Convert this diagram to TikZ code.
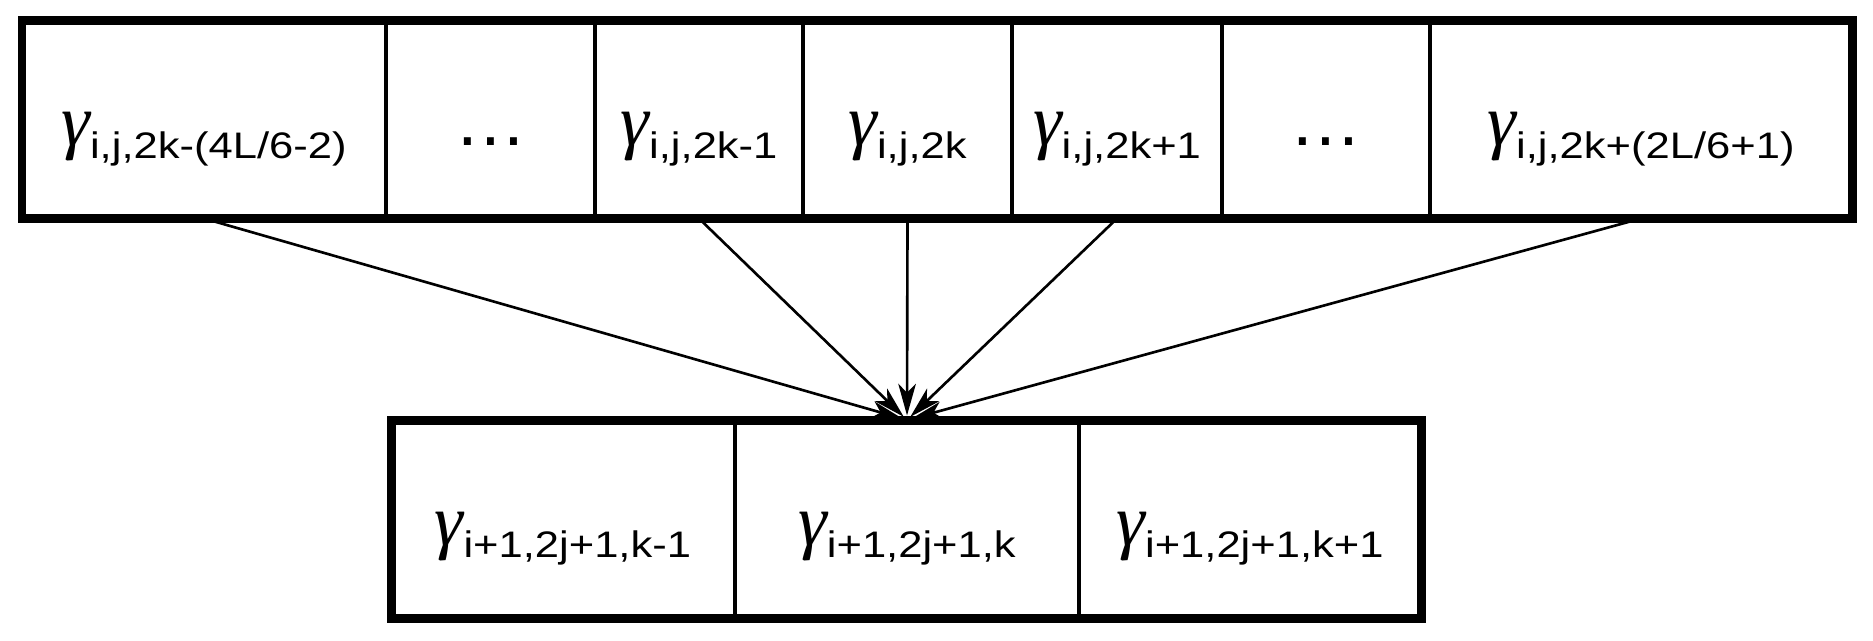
\documentclass[tikz,border=0pt]{standalone}
\usepackage{fontspec}
\usepackage{graphicx}
\setmainfont{Liberation Sans}
\newfontfamily\gfont{Liberation Serif}
\usetikzlibrary{arrows.meta}

\newcommand{\gam}[1]{{\gfont\itshape\fontsize{20.7}{22}\selectfont γ}\raisebox{-3.5pt}{\scalebox{1.18}[1]{\fontsize{10.5}{11}\selectfont #1}}}
\newcommand{\gdots}{{\fontsize{20.7}{22}\selectfont\ldots}}

\tikzstyle{cell}=[draw,line width=1.1pt,minimum height=1.98cm,inner sep=0pt,outer sep=0pt,text height=16pt,text depth=1pt]
\tikzstyle{frame}=[draw,line width=2.56pt]
\tikzstyle{arrow}=[draw,line width=0.75pt,-{Stealth[length=9pt,width=5pt,inset=2.5pt]},shorten >=0.045cm]

\begin{document}
\begin{tikzpicture}
	\useasboundingbox (0,0) rectangle (18.73,6.40);
			% upper row
			\node[cell,minimum width=3.64cm] (c1) at (2.04,5.205) {\gam{i,j,2k-(4L/6-2)}};
			\node[cell,minimum width=2.09cm] (c2) at (4.905,5.205) {\gdots};
			\node[cell,minimum width=2.08cm] (c3) at (6.99,5.205) {\gam{i,j,2k-1}};
			\node[cell,minimum width=2.09cm] (c4) at (9.075,5.205) {\gam{i,j,2k}};
			\node[cell,minimum width=2.10cm] (c5) at (11.17,5.205) {\gam{i,j,2k+1}};
			\node[cell,minimum width=2.08cm] (c6) at (13.26,5.205) {\gdots};
			\node[cell,minimum width=4.22cm] (c7) at (16.41,5.205) {\gam{i,j,2k+(2L/6+1)}};
			% lower row
			\node[cell,minimum width=3.44cm] (b1) at (5.63,1.21) {\gam{i+1,2j+1,k-1}};
			\node[cell,minimum width=3.44cm] (b2) at (9.07,1.21) {\gam{i+1,2j+1,k}};
			\node[cell,minimum width=3.42cm] (b3) at (12.50,1.21) {\gam{i+1,2j+1,k+1}};
			% arrows into the middle cell
			\foreach \source in {c1,c3,c4,c5,c7}
				\path[arrow] (\source.south) -- (b2.north);
			% thick outer frames
			\path[frame] (c1.north west) rectangle (c7.south east);
			\path[frame] (b1.north west) rectangle (b3.south east);
\end{tikzpicture}
\end{document}
